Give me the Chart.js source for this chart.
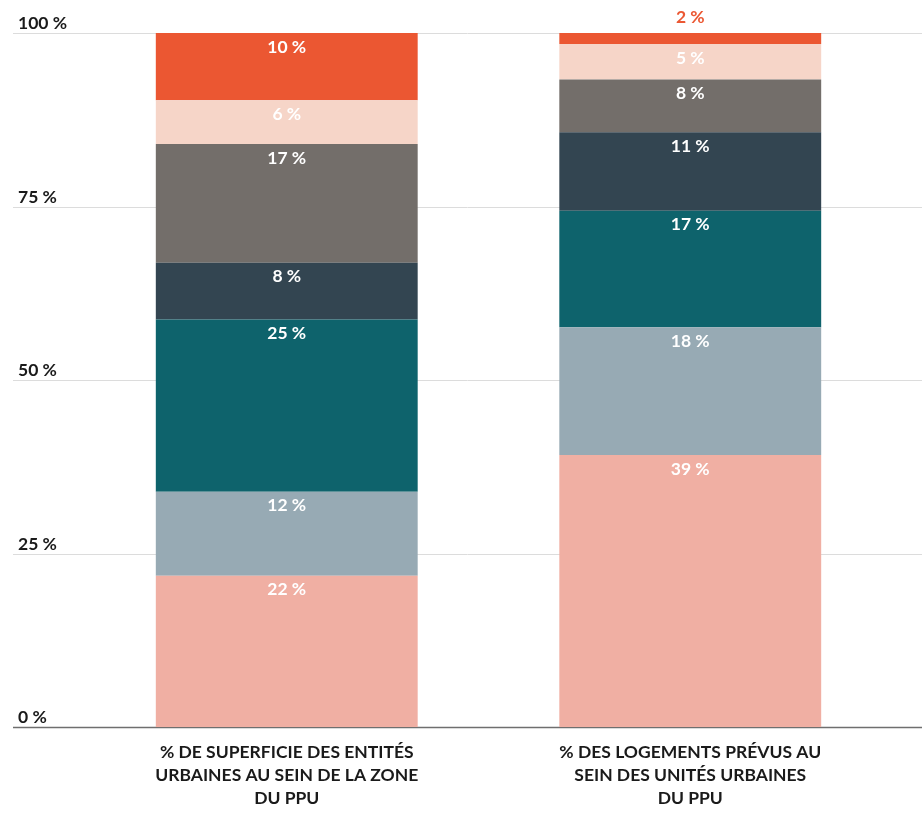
<!DOCTYPE html>
<html>
<head>
<meta charset="utf-8">
<script src="https://cdn.jsdelivr.net/npm/chart.js@4.4.1/dist/chart.umd.min.js"></script>
<style>
  html, body { margin: 0; padding: 0; background: #fff; }
  #wrap { width: 922px; height: 814px; }
</style>
</head>
<body>
<div id="wrap"><canvas id="chart"></canvas></div>
<script>
// --- Data ---
const categories = [
    ['% DE SUPERFICIE DES ENTITÉS', 'URBAINES AU SEIN DE LA ZONE', 'DU PPU'],
    ['% DES LOGEMENTS PRÉVUS AU', 'SEIN DES UNITÉS URBAINES', 'DU PPU']
];
// segments from bottom to top, one array per segment: [left bar, right bar]
const seg1 = [21.8, 39.2];
const seg2 = [12.1, 18.4];
const seg3 = [24.8, 16.8];
const seg4 = [8.2, 11.3];
const seg5 = [17.1, 7.6];
const seg6 = [6.3, 5.1];
const seg7 = [9.7, 1.6];
const yTicks = [0, 25, 50, 75, 100];

const colors = ['#f0afa3', '#97aab4', '#0e636c', '#334551', '#736e6a', '#f6d5c8', '#eb5732'];
const FONT = 'Lato, "Noto Sans", sans-serif';

// --- Plugins ---
const gridPlugin = {
    id: 'grid',
    beforeDatasetsDraw(chart) {
        const ctx = chart.ctx, y = chart.scales.y;
        ctx.save();
        yTicks.forEach(v => {
            const py = Math.round(y.getPixelForValue(v)) + 0.5;
            ctx.strokeStyle = v === 0 ? '#6f6f6f' : '#dcdcdc';
            ctx.lineWidth = v === 0 ? 1.6 : 1;
            ctx.beginPath(); ctx.moveTo(13, py); ctx.lineTo(922, py); ctx.stroke();
            ctx.fillStyle = '#1a1a1a';
            ctx.font = 'bold 17.5px ' + FONT;
            ctx.textAlign = 'left'; ctx.textBaseline = 'middle';
            ctx.fillText(v + ' %', 18, py - 10);
        });
        ctx.restore();
    }
};

const labelPlugin = {
    id: 'segLabels',
    afterDatasetsDraw(chart) {
        const ctx = chart.ctx;
        ctx.save();
        ctx.font = 'bold 17.5px ' + FONT;
        ctx.textAlign = 'center'; ctx.textBaseline = 'middle';
        chart.data.datasets.forEach((ds, di) => {
            chart.getDatasetMeta(di).data.forEach((bar, i) => {
                const v = ds.data[i];
                const txt = Math.round(v) + ' %';
                if (v < 3) {
                    ctx.fillStyle = colors[di];
                    ctx.fillText(txt, bar.x, bar.y - 16);
                } else {
                    ctx.fillStyle = '#ffffff';
                    ctx.fillText(txt, bar.x, bar.y + 14);
                }
            });
        });
        ctx.restore();
    }
};

// --- Chart ---
const segs = [seg1, seg2, seg3, seg4, seg5, seg6, seg7];
new Chart(document.getElementById('chart'), {
    type: 'bar',
    data: {
        labels: categories,
        datasets: segs.map((d, i) => ({
            data: d, backgroundColor: colors[i], borderWidth: 0,
            barPercentage: 0.649, categoryPercentage: 1
        }))
    },
    options: {
        responsive: true, maintainAspectRatio: false, animation: false,
        layout: { padding: { left: 85, right: 30, top: 33, bottom: 0 } },
        plugins: { legend: { display: false }, tooltip: { enabled: false } },
        scales: {
            x: {
                stacked: true,
                grid: { display: false, drawTicks: false },
                border: { display: false },
                afterFit(scale) { scale.height = 87; },
                ticks: {
                    color: '#1a1a1a', padding: 14,
                    font: { family: FONT, size: 17.5, weight: 'bold', lineHeight: 1.32 }
                }
            },
            y: {
                stacked: true, min: 0, max: 100, display: false
            }
        }
    },
    plugins: [gridPlugin, labelPlugin]
});
</script>
</body>
</html>
